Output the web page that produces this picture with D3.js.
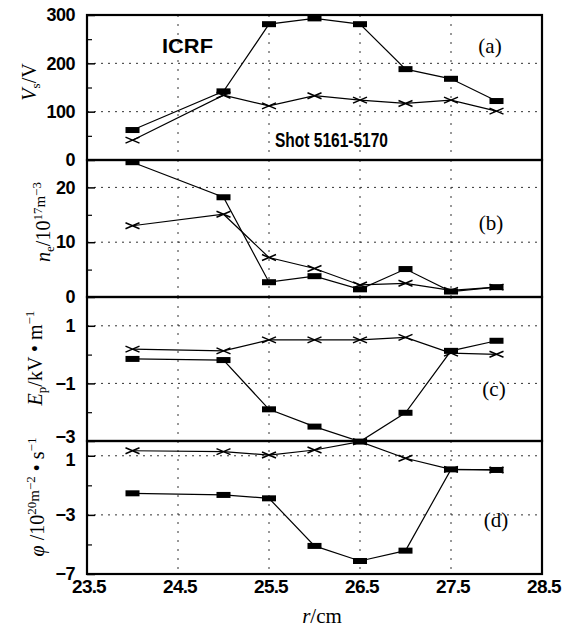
<!DOCTYPE html>
<html><head><meta charset="utf-8">
<script src="https://cdn.jsdelivr.net/npm/d3@7"></script>
<style>
html,body{margin:0;padding:0;background:#fff;}
svg{display:block;}
</style></head>
<body>
<svg id="chart" width="575" height="628"></svg>
<script>
// ---- data ----
const radius = [24, 25, 25.5, 26, 26.5, 27, 27.5, 28];
const xTicks = [23.5, 24.5, 25.5, 26.5, 27.5, 28.5];
const xTickLabels = ["23.5", "24.5", "25.5", "26.5", "27.5", "28.5"];

const vsSquare = [62, 142, 281, 293, 281, 188, 168, 122];
const vsCross  = [41, 134, 112, 133, 124, 117, 124, 101];

const neSquare = [24.6, 18.2, 2.7, 3.8, 1.4, 5.1, 1.0, 1.8];
const neCross  = [13.0, 15.1, 7.2, 5.2, 2.2, 2.5, 1.2, 1.8];

const epSquare = [-0.15, -0.19, -1.9, -2.5, -3.02, -2.02, 0.13, 0.48];
const epCross  = [0.19, 0.13, 0.51, 0.51, 0.51, 0.6, 0.05, 0.01];

const phiSquare = [-1.54, -1.65, -1.88, -5.1, -6.12, -5.42, 0.08, 0.04];
const phiCross  = [1.34, 1.28, 1.05, 1.39, 1.95, 0.83, 0.08, 0.04];

const vsTicks = [0, 100, 200, 300];
const neTicks = [0, 10, 20];
const epTicks = [-3, -1, 1];
const phiTicks = [-7, -3, 1];

const panelLetters = ["(a)", "(b)", "(c)", "(d)"];
const annotICRF = "ICRF";
const annotShot = "Shot 5161-5170";

// ---- layout ----
const svg = d3.select("#chart");
const L = 87, R = 542;
const x = d3.scaleLinear().domain([23.5, 28.5]).range([L, R]);

const panels = [
  {sq: vsSquare, cr: vsCross, domain: [0, 300], range: [160, 15], ticks: vsTicks, minor: [50,150,250], grid: [100,200], letter: panelLetters[0], lpos: [490, 46], nudge: {}},
  {sq: neSquare, cr: neCross, domain: [0, 25], range: [297, 160], ticks: neTicks, minor: [5,15], grid: [10,20], letter: panelLetters[1], lpos: [491, 223], nudge: {}},
  {sq: epSquare, cr: epCross, domain: [-3, 2], range: [441, 297], ticks: epTicks, minor: [-2,0], grid: [-1,1], letter: panelLetters[2], lpos: [494, 389], nudge: {"-3": -4}},
  {sq: phiSquare, cr: phiCross, domain: [-7, 2], range: [574, 441], ticks: phiTicks, minor: [-5,-1], grid: [-3,1], letter: panelLetters[3], lpos: [496, 520], nudge: {"1": 4}}
];

const gridX = [24.5, 25.5, 26.5, 27.5];

panels.forEach((p, i) => {
  const y = d3.scaleLinear().domain(p.domain).range(p.range);
  const g = svg.append("g");
  const top = p.range[1], bot = p.range[0];

  // grid
  g.selectAll(".gy").data(p.grid).join("line")
    .attr("x1", L).attr("x2", R).attr("y1", d => y(d)).attr("y2", d => y(d))
    .attr("stroke", "#333").attr("stroke-width", 1).attr("stroke-dasharray", "2,5");
  g.selectAll(".gx").data(gridX).join("line")
    .attr("x1", d => x(d)).attr("x2", d => x(d)).attr("y1", top).attr("y2", bot)
    .attr("stroke", "#333").attr("stroke-width", 1).attr("stroke-dasharray", "2,7");

  // left axis
  const ax = d3.axisLeft(y).tickValues(p.ticks).tickSize(-8).tickPadding(12).tickFormat(d3.format("d"));
  const axg = g.append("g").attr("transform", `translate(${L},0)`).call(ax);
  axg.select(".domain").remove();
  axg.selectAll(".tick line").attr("stroke", "#000").attr("stroke-width", 1.5);
  axg.selectAll(".tick text")
    .attr("font-family", "Liberation Sans, Arial, sans-serif")
    .attr("font-weight", "bold").attr("font-size", 18)
    .attr("letter-spacing", -0.5).attr("fill", "#000")
    .attr("y", d => p.nudge[String(d)] || 0);
  const mx = d3.axisLeft(y).tickValues(p.minor).tickSize(-5).tickFormat("");
  const mg = g.append("g").attr("transform", `translate(${L},0)`).call(mx);
  mg.select(".domain").remove();
  mg.selectAll(".tick line").attr("stroke", "#000").attr("stroke-width", 1.2);

  // lines
  const line = d3.line().x((d, j) => x(radius[j])).y(d => y(d));
  g.append("path").datum(p.sq).attr("d", line).attr("fill", "none").attr("stroke", "#000").attr("stroke-width", 1.2);
  g.append("path").datum(p.cr).attr("d", line).attr("fill", "none").attr("stroke", "#000").attr("stroke-width", 1.2);

  // markers
  g.selectAll(".sq").data(p.sq).join("rect")
    .attr("x", (d, j) => x(radius[j]) - 7).attr("y", d => y(d) - 3)
    .attr("width", 14).attr("height", 6).attr("fill", "#000");
  const cg = g.selectAll(".cr").data(p.cr).join("g")
    .attr("transform", (d, j) => `translate(${x(radius[j])},${y(d)})`);
  cg.append("path").attr("d", "M-7,-3L7,3M-7,3L7,-3")
    .attr("stroke", "#000").attr("stroke-width", 1.5).attr("fill", "none");

  // frame
  g.append("rect").attr("x", L).attr("y", top).attr("width", R - L).attr("height", bot - top)
    .attr("fill", "none").attr("stroke", "#000").attr("stroke-width", 2.2);

  // panel letter
  g.append("text").attr("x", p.lpos[0]).attr("y", p.lpos[1]).attr("text-anchor", "middle")
    .attr("dominant-baseline", "central")
    .attr("font-family", "Liberation Serif, Times New Roman, serif").attr("font-size", 21)
    .text(p.letter);
});

// x axis labels
svg.append("g").selectAll("text").data(xTicks).join("text")
  .attr("x", d => x(d) + 2).attr("y", 586).attr("text-anchor", "middle").attr("dominant-baseline", "central")
  .attr("font-family", "Liberation Sans, Arial, sans-serif").attr("font-weight", "bold")
  .attr("font-size", 19).attr("letter-spacing", -0.8)
  .text((d, i) => xTickLabels[i]);

// annotations
svg.append("text").attr("x", 162).attr("y", 53)
  .attr("font-family", "Liberation Sans, Arial, sans-serif").attr("font-weight", "bold")
  .attr("font-size", 20).attr("textLength", 51).attr("lengthAdjust", "spacingAndGlyphs").text(annotICRF);
svg.append("text").attr("x", 275).attr("y", 147)
  .attr("font-family", "Liberation Sans, Arial, sans-serif").attr("font-weight", "bold")
  .attr("font-size", 20).attr("textLength", 113).attr("lengthAdjust", "spacingAndGlyphs").text(annotShot);

// axis titles
const serif = "Liberation Serif, Times New Roman, serif";
function vtitle(cx, cy, build) {
  const t = svg.append("text").attr("transform", `translate(${cx},${cy}) rotate(-90)`)
    .attr("text-anchor", "middle").attr("font-family", serif).attr("font-size", 20).attr("fill", "#000");
  build(t);
}
vtitle(36, 82, t => {
  t.append("tspan").attr("font-style", "italic").text("V");
  t.append("tspan").attr("font-size", 13).attr("dy", 4).text("s");
  t.append("tspan").attr("dy", -4).text("/V");
});
vtitle(50, 222, t => {
  t.append("tspan").attr("font-style", "italic").text("n");
  t.append("tspan").attr("font-size", 13).attr("dy", 4).text("e");
  t.append("tspan").attr("dy", -4).text("/10");
  t.append("tspan").attr("font-size", 13).attr("dy", -8).text("17");
  t.append("tspan").attr("font-size", 15).attr("dy", 3).text("m");
  t.append("tspan").attr("font-size", 13).attr("dy", -4).text("−3");
});
vtitle(42, 358, t => {
  t.append("tspan").attr("font-style", "italic").text("E");
  t.append("tspan").attr("font-size", 13).attr("dy", 4).text("p");
  t.append("tspan").attr("dy", -4).text("/kV • m");
  t.append("tspan").attr("font-size", 13).attr("dy", -8).text("−1");
});
vtitle(44, 497, t => {
  t.append("tspan").attr("font-style", "italic").text("φ");
  t.append("tspan").text(" /10");
  t.append("tspan").attr("font-size", 13).attr("dy", -8).text("20");
  t.append("tspan").attr("font-size", 15).attr("dy", 3).text("m");
  t.append("tspan").attr("font-size", 13).attr("dy", -4).text("−2");
  t.append("tspan").attr("dy", 9).text(" • s");
  t.append("tspan").attr("font-size", 13).attr("dy", -8).text("−1");
});

// x title
const xt = svg.append("text").attr("x", 322).attr("y", 623).attr("text-anchor", "middle")
  .attr("font-family", serif).attr("font-size", 21);
xt.append("tspan").attr("font-style", "italic").text("r");
xt.append("tspan").text("/cm");
</script>
</body></html>
